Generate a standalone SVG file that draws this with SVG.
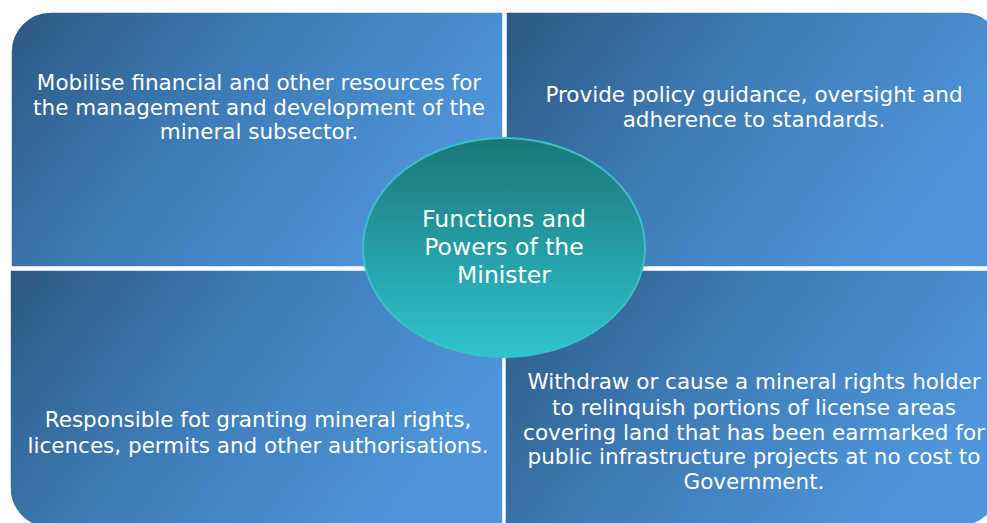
<svg xmlns="http://www.w3.org/2000/svg" width="987" height="523" viewBox="0 0 987 523">
<defs>
<linearGradient id="qg" x1="0" y1="0" x2="1" y2="0.4">
<stop offset="0" stop-color="#2D5882"/>
<stop offset="0.45" stop-color="#3D7AB4"/>
<stop offset="1" stop-color="#4E95DA"/>
</linearGradient>
<linearGradient id="eg" x1="0" y1="0" x2="0" y2="1">
<stop offset="0" stop-color="#1A7679"/>
<stop offset="1" stop-color="#2FC4CF"/>
</linearGradient>
</defs>
<style>
.q{fill:url(#qg);stroke:#FFFFFF;stroke-width:1.5}
.t{font-family:"DejaVu Sans",sans-serif;font-size:21.5px;fill:#FFFFFF;text-anchor:middle}
.c{font-family:"DejaVu Sans",sans-serif;font-size:23.5px;fill:#FFFFFF;text-anchor:middle}
</style>
<rect width="987" height="523" fill="#FFFFFF"/>
<g id="node-tl">
<path class="q" d="M11,52 A40,40 0 0 1 51,12 L503,12 L503,267 L11,267 Z"/>
<text class="t"><tspan x="259" y="90">Mobilise financial and other resources for</tspan><tspan x="259" y="115">the management and development of the</tspan><tspan x="259" y="139">mineral subsector.</tspan></text>
</g>
<g id="node-tr">
<path class="q" d="M506,12 L963,12 A40,40 0 0 1 1003,52 L1003,267 L506,267 Z"/>
<text class="t"><tspan x="754" y="102">Provide policy guidance, oversight and</tspan><tspan x="754" y="127">adherence to standards.</tspan></text>
</g>
<g id="node-bl">
<path class="q" d="M10,270 L503,270 L503,528 L50,528 A40,40 0 0 1 10,488 Z"/>
<text class="t"><tspan x="258" y="427">Responsible fot granting mineral rights,</tspan><tspan x="258" y="453">licences, permits and other authorisations.</tspan></text>
</g>
<g id="node-br">
<path class="q" d="M505,270 L1000,270 L1000,486 A40,40 0 0 1 960,526 L505,526 Z"/>
<text class="t"><tspan x="754" y="389">Withdraw or cause a mineral rights holder</tspan><tspan x="754" y="415">to relinquish portions of license areas</tspan><tspan x="754" y="440">covering land that has been earmarked for</tspan><tspan x="754" y="464">public infrastructure projects at no cost to</tspan><tspan x="754" y="489">Government.</tspan></text>
</g>
<g id="connectors"></g>
<g id="node-center">
<ellipse cx="504" cy="247.5" rx="141" ry="109.5" fill="url(#eg)" stroke="#3BC0C7" stroke-width="2"/>
<text class="c"><tspan x="504" y="227">Functions and</tspan><tspan x="504" y="255">Powers of the</tspan><tspan x="504" y="283">Minister</tspan></text>
</g>
</svg>
